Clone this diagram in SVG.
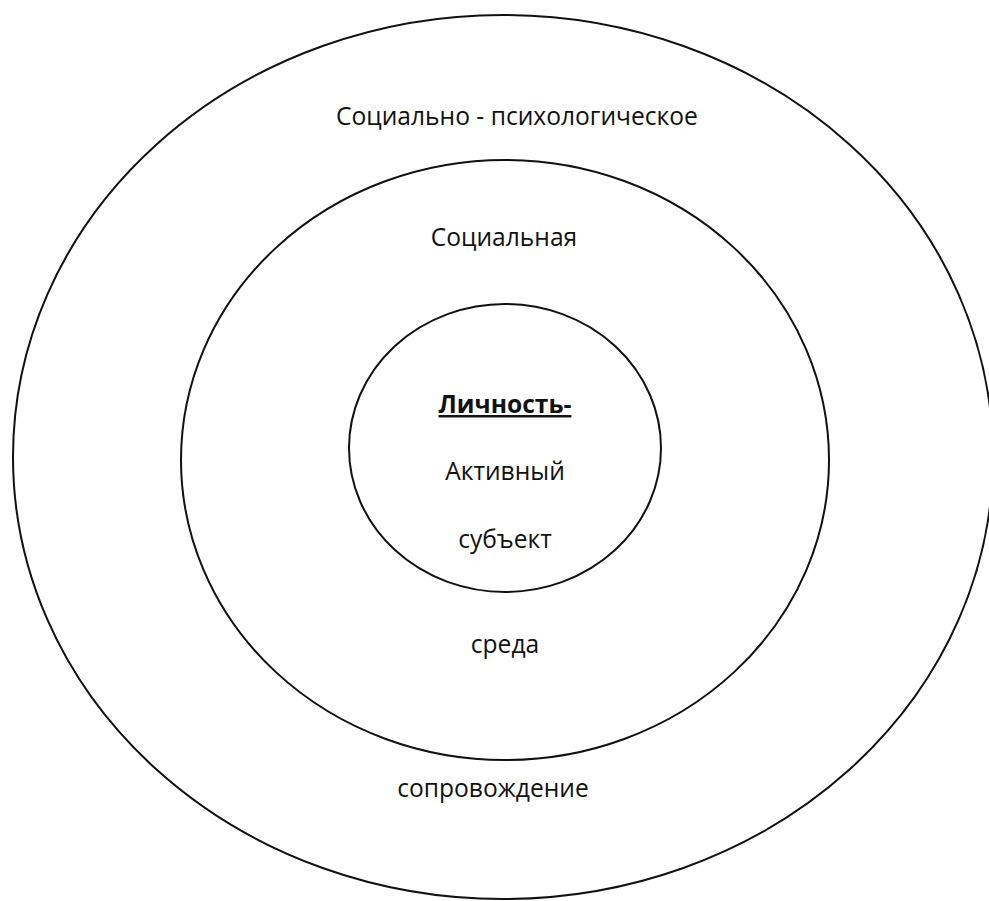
<svg xmlns="http://www.w3.org/2000/svg" width="989" height="901" viewBox="0 0 989 901">
<style>
.ring{fill:none;stroke:#111;stroke-width:2}
.t{font-family:"Open Sans","Noto Sans","DejaVu Sans",sans-serif;font-size:24.6px;fill:#111;text-anchor:middle}
.b{font-weight:bold;text-decoration:underline}
</style>
<rect width="989" height="901" fill="#fff"/>
<g id="outer">
<ellipse class="ring" cx="503" cy="457" rx="490" ry="442"/>
<text class="t" x="517" y="125">Социально - психологическое</text>
<text class="t" x="493" y="797">сопровождение</text>
</g>
<g id="middle">
<ellipse class="ring" cx="505" cy="460" rx="324" ry="300"/>
<text class="t" x="504" y="246">Социальная</text>
<text class="t" x="505" y="653">среда</text>
</g>
<g id="inner">
<ellipse class="ring" cx="505" cy="448" rx="156" ry="144"/>
<text class="t b" x="505" y="413">Личность-</text>
<text class="t" x="505" y="480">Активный</text>
<text class="t" x="505" y="548">субъект</text>
</g>
<g id="connectors"></g>
</svg>
